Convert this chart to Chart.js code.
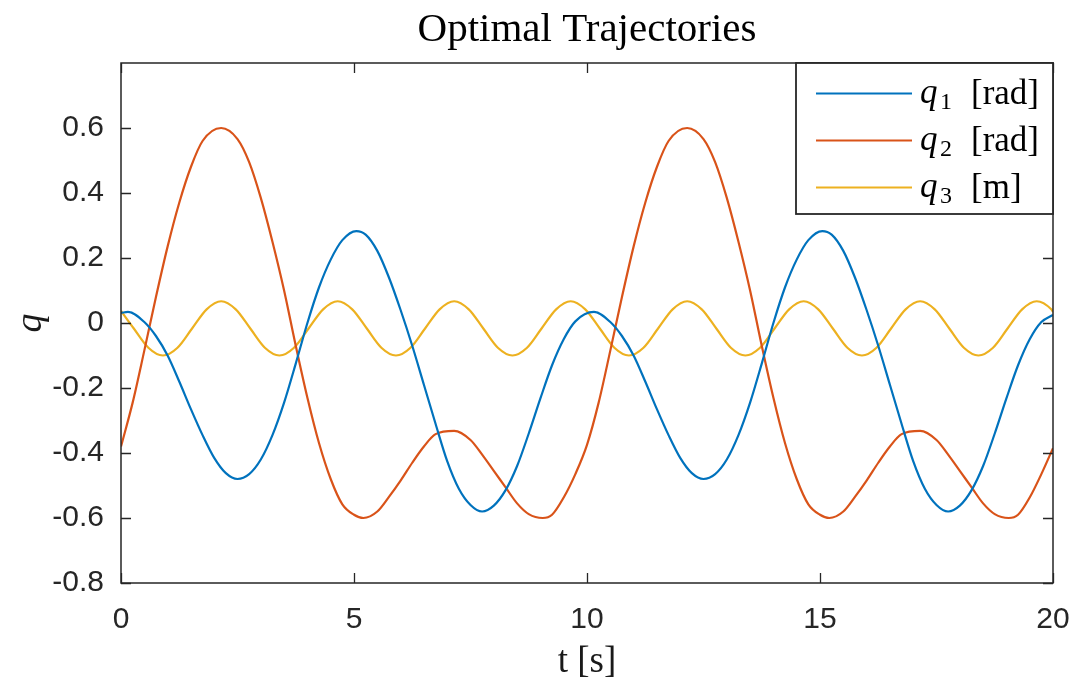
<!DOCTYPE html>
<html><head><meta charset="utf-8">
<script src="https://cdn.jsdelivr.net/npm/chart.js@4.4.0/dist/chart.umd.min.js"></script>
<style>html,body{margin:0;padding:0;background:#fff;}#wrap{width:1073px;height:684px;}</style>
</head><body><div id="wrap"><canvas id="c" width="1073" height="684"></canvas></div>
<script>
// ---- data (time in s, value) ----
const q1Times = [0,0.15,0.5,0.75,1,1.25,1.5,1.75,2,2.25,2.5,2.75,3,3.25,3.5,3.75,4,4.25,4.5,4.75,
  5.05,5.25,5.5,5.75,6,6.25,6.5,6.75,7,7.25,7.5,7.75,8,8.25,8.5,8.75,9,9.25,9.5,9.75,
  10.15,10.5,10.75,11,11.25,11.5,11.75,12,12.25,12.5,12.75,13,13.25,13.5,13.75,14,14.25,14.5,14.75,
  15.05,15.25,15.5,15.75,16,16.25,16.5,16.75,17,17.25,17.5,17.75,18,18.25,18.5,18.75,19,19.25,19.5,19.75,20];
const q1Values = [0.031,0.034,0.003,-0.040,-0.100,-0.180,-0.265,-0.345,-0.415,-0.462,
  -0.480,-0.465,-0.420,-0.345,-0.245,-0.125,0.000,0.110,0.195,0.255,
  0.283,0.272,0.222,0.140,0.040,-0.070,-0.190,-0.310,-0.425,-0.510,
  -0.560,-0.580,-0.562,-0.515,-0.440,-0.340,-0.232,-0.130,-0.050,0.005,
  0.034,0.003,-0.040,-0.100,-0.180,-0.265,-0.345,-0.415,-0.462,
  -0.480,-0.465,-0.420,-0.345,-0.245,-0.125,0.000,0.110,0.195,0.255,
  0.283,0.272,0.222,0.140,0.040,-0.070,-0.190,-0.310,-0.425,-0.510,
  -0.560,-0.580,-0.562,-0.515,-0.440,-0.340,-0.232,-0.130,-0.050,0.003,0.025];
const q2Times = [0,0.25,0.5,0.75,1,1.25,1.5,1.75,2.15,2.5,2.75,3,3.25,3.5,3.75,4,4.25,4.5,4.75,
  5,5.2,5.5,5.75,6,6.25,6.5,6.75,7.15,7.5,7.75,8,8.25,8.5,8.75,9.05,9.25,9.5,9.75,
  10,10.25,10.5,10.75,11,11.25,11.5,11.75,12.15,12.5,12.75,13,13.25,13.5,13.75,14,14.25,14.5,14.75,
  15,15.2,15.5,15.75,16,16.25,16.5,16.75,17.15,17.5,17.75,18,18.25,18.5,18.75,19.05,19.25,19.5,19.75,20];
const q2Values = [-0.380,-0.245,-0.085,0.080,0.235,0.370,0.480,0.560,0.600,
  0.566,0.495,0.385,0.250,0.100,-0.070,-0.230,-0.370,-0.480,-0.558,
  -0.590,-0.600,-0.580,-0.535,-0.485,-0.430,-0.380,-0.342,-0.332,
  -0.360,-0.405,-0.455,-0.505,-0.555,-0.588,-0.600,-0.590,-0.537,-0.465,
  -0.375,-0.245,-0.085,0.080,0.235,0.370,0.480,0.560,0.600,
  0.566,0.495,0.385,0.250,0.100,-0.070,-0.230,-0.370,-0.480,-0.558,
  -0.590,-0.600,-0.580,-0.535,-0.485,-0.430,-0.380,-0.342,-0.332,
  -0.360,-0.405,-0.455,-0.505,-0.555,-0.588,-0.600,-0.590,-0.537,-0.465,-0.385];
const q3Times = [0,0.275,0.5875,0.9,1.2125,1.525,1.8375,2.15,2.4625,2.775,3.0875,3.4,3.7125,4.025,4.3375,4.65,
  4.9625,5.275,5.5875,5.9,6.2125,6.525,6.8375,7.15,7.4625,7.775,8.0875,8.4,8.7125,9.025,9.3375,9.65,
  9.9625,10.275,10.5875,10.9,11.2125,11.525,11.8375,12.15,12.4625,12.775,13.0875,13.4,13.7125,14.025,14.3375,14.65,
  14.9625,15.275,15.5875,15.9,16.2125,16.525,16.8375,17.15,17.4625,17.775,18.0875,18.4,18.7125,19.025,19.3375,19.65,
  19.9625,20];
const q3Values = [0.037,-0.017,-0.076,-0.100,-0.076,-0.017,0.042,0.067,0.042,-0.017,-0.076,-0.100,-0.076,-0.017,0.042,0.067,
  0.042,-0.017,-0.076,-0.100,-0.076,-0.017,0.042,0.067,0.042,-0.017,-0.076,-0.100,-0.076,-0.017,0.042,0.067,
  0.042,-0.017,-0.076,-0.100,-0.076,-0.017,0.042,0.067,0.042,-0.017,-0.076,-0.100,-0.076,-0.017,0.042,0.067,
  0.042,-0.017,-0.076,-0.100,-0.076,-0.017,0.042,0.067,0.042,-0.017,-0.076,-0.100,-0.076,-0.017,0.042,0.067,
  0.042,0.034];
const seriesSymbols = ['q','q','q'];
const seriesSubscripts = ['1','2','3'];
const seriesUnits = ['[rad]','[rad]','[m]'];
const seriesColors = ['#0072BD','#D95319','#EDB120'];
const xTickValues = [0,5,10,15,20];
const xTickLabels = ['0','5','10','15','20'];
const yTickValues = [-0.8,-0.6,-0.4,-0.2,0,0.2,0.4,0.6];
const yTickLabels = ['-0.8','-0.6','-0.4','-0.2','0','0.2','0.4','0.6'];
const titleText = 'Optimal Trajectories';
const xAxisLabel = 't [s]';
const yAxisLabel = 'q';

const seriesTimes = [q1Times, q2Times, q3Times];
const seriesValues = [q1Values, q2Values, q3Values];
const datasets = seriesValues.map((vals, i) => ({
  label: seriesSymbols[i] + seriesSubscripts[i] + ' ' + seriesUnits[i],
  data: seriesTimes[i].map((t, k) => ({x: t, y: vals[k]})),
  borderColor: seriesColors[i],
  backgroundColor: seriesColors[i],
  borderWidth: 2.2,
  pointRadius: 0,
  cubicInterpolationMode: 'monotone',
  fill: false
}));

const AXIS_COLOR = '#262626';
const SERIF = "'Liberation Serif', 'DejaVu Serif', serif";
const SANS = "'Liberation Sans', Arial, sans-serif";

const matlabAxes = {
  id: 'matlabAxes',
  afterDatasetsDraw(chart) {
    const {ctx, chartArea: ca, scales: {x, y}} = chart;
    ctx.save();
    ctx.strokeStyle = AXIS_COLOR;
    ctx.lineWidth = 1.3;
    const tl = 10;
    ctx.beginPath();
    xTickValues.forEach(v => {
      const px = Math.round(x.getPixelForValue(v)) + 0.5;
      ctx.moveTo(px, ca.bottom); ctx.lineTo(px, ca.bottom - tl);
      ctx.moveTo(px, ca.top); ctx.lineTo(px, ca.top + tl);
    });
    yTickValues.forEach(v => {
      const py = Math.round(y.getPixelForValue(v)) + 0.5;
      ctx.moveTo(ca.left, py); ctx.lineTo(ca.left + tl, py);
      ctx.moveTo(ca.right, py); ctx.lineTo(ca.right - tl, py);
    });
    ctx.stroke();
    ctx.lineWidth = 1.5;
    ctx.strokeRect(ca.left, ca.top, ca.right - ca.left, ca.bottom - ca.top);
    ctx.restore();
  },
  afterDraw(chart) {
    const {ctx, chartArea: ca} = chart;
    const w = 257, h = 151;
    const x0 = ca.right - w, y0 = ca.top;
    ctx.save();
    ctx.fillStyle = '#fff';
    ctx.fillRect(x0, y0, w, h);
    ctx.strokeStyle = AXIS_COLOR;
    ctx.lineWidth = 1.8;
    ctx.strokeRect(x0, y0, w, h);
    chart.data.datasets.forEach((ds, i) => {
      const yy = y0 + 30.5 + i * 47;
      ctx.strokeStyle = ds.borderColor;
      ctx.lineWidth = 2.2;
      ctx.beginPath();
      ctx.moveTo(x0 + 20, yy); ctx.lineTo(x0 + 116, yy);
      ctx.stroke();
      ctx.fillStyle = '#000';
      ctx.textBaseline = 'alphabetic';
      ctx.textAlign = 'left';
      ctx.font = 'italic 35px ' + SERIF;
      ctx.fillText(seriesSymbols[i], x0 + 124, yy + 9);
      ctx.font = '24px ' + SERIF;
      ctx.fillText(seriesSubscripts[i], x0 + 144, yy + 15);
      ctx.font = '35px ' + SERIF;
      ctx.fillText(seriesUnits[i], x0 + 175, yy + 10);
    });
    ctx.restore();
  }
};

new Chart(document.getElementById('c'), {
  type: 'line',
  data: {datasets},
  plugins: [matlabAxes],
  options: {
    responsive: false,
    animation: false,
    devicePixelRatio: 1,
    layout: {padding: {left: 0, right: 20, top: 0, bottom: 0}},
    plugins: {
      legend: {display: false},
      tooltip: {enabled: false},
      title: {
        display: true,
        text: titleText,
        fullSize: false,
        color: '#000',
        font: {family: SERIF, size: 41, weight: 'normal', lineHeight: 1.2},
        padding: {top: 6, bottom: 7.8}
      }
    },
    scales: {
      x: {
        type: 'linear', min: 0, max: 20,
        grid: {display: false, drawTicks: false},
        border: {display: false},
        afterBuildTicks: s => { s.ticks = xTickValues.map(v => ({value: v})); },
        afterFit: s => { s.height = 101; s.paddingLeft = 0; s.paddingRight = 0; },
        ticks: {
          color: AXIS_COLOR, padding: 19, maxRotation: 0, autoSkip: false,
          font: {family: SANS, size: 30},
          callback: (v, i) => xTickLabels[i]
        },
        title: {
          display: true, text: xAxisLabel, color: '#1a1a1a',
          font: {family: SERIF, size: 37, lineHeight: 1.2},
          padding: {top: 0, bottom: 0}
        }
      },
      y: {
        type: 'linear', min: -0.8, max: 0.8,
        grid: {display: false, drawTicks: false},
        border: {display: false},
        afterBuildTicks: s => { s.ticks = yTickValues.map(v => ({value: v})); },
        afterFit: s => { s.width = 121; s.paddingTop = 0; s.paddingBottom = 0; },
        ticks: {
          color: AXIS_COLOR, padding: 17, autoSkip: false,
          font: {family: SANS, size: 30},
          callback: (v, i) => yTickLabels[i]
        },
        title: {
          display: true, text: yAxisLabel, color: '#1a1a1a',
          font: {family: SERIF, size: 38, style: 'italic', lineHeight: 1.2},
          padding: {top: 8, bottom: 0}
        }
      }
    }
  }
});
</script></body></html>
